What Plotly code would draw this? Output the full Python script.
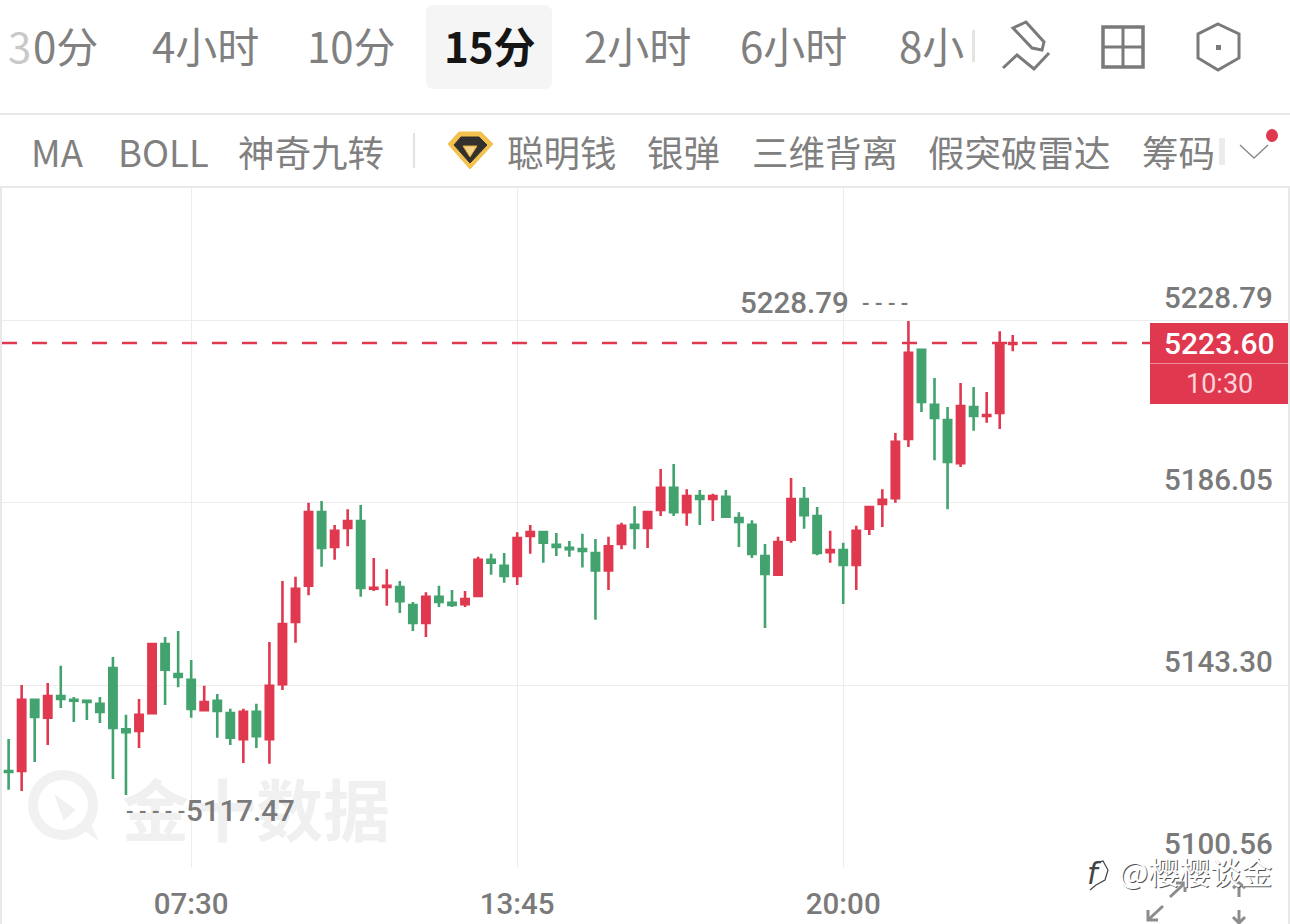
import plotly.graph_objs as go

# 15 minute gold candles, 04:00 to 23:15
times = ["%02d:%02d" % (4 + i // 4, (i % 4) * 15) for i in range(78)]
opens = [5123.1, 5123.1, 5139.8, 5135.6, 5140.7, 5139.8, 5139.6, 5138.9, 5147.3, 5132.9,
         5132.5, 5136.7, 5152.9, 5145.9, 5144.5, 5137.4, 5139.6, 5136.7, 5130.6, 5137.0,
         5130.6, 5143.5, 5158.1, 5166.6, 5183.9, 5175.7, 5180.2, 5181.8, 5165.9, 5166.3,
         5166.3, 5162.1, 5157.9, 5164.0, 5162.6, 5162.3, 5164.2, 5172.7, 5171.3, 5168.9,
         5178.3, 5179.2, 5176.2, 5175.5, 5175.2, 5174.3, 5170.2, 5176.4, 5180.9, 5180.2,
         5184.4, 5189.6, 5183.9, 5187.7, 5187.0, 5187.5, 5182.5, 5180.9, 5173.6, 5169.2,
         5177.4, 5187.0, 5183.0, 5174.5, 5175.0, 5171.5, 5180.0, 5185.8, 5187.2, 5201.1,
         5222.0, 5209.1, 5205.5, 5195.4, 5208.6, 5206.5, 5207.2, 5223.4]
highs = [5130.6, 5143.3, 5140.0, 5143.8, 5147.8, 5140.5, 5139.7, 5140.5, 5149.9, 5136.3,
         5140.0, 5153.2, 5154.6, 5156.0, 5149.2, 5143.1, 5141.2, 5137.7, 5137.7, 5138.9,
         5153.4, 5167.7, 5168.7, 5186.1, 5186.5, 5180.9, 5184.6, 5185.6, 5173.1, 5170.5,
         5167.7, 5162.8, 5165.1, 5166.6, 5165.6, 5165.4, 5173.4, 5174.1, 5174.3, 5179.2,
         5180.9, 5179.5, 5179.0, 5177.1, 5178.8, 5177.6, 5178.1, 5181.4, 5185.3, 5184.2,
         5194.0, 5195.2, 5189.3, 5189.1, 5188.2, 5189.1, 5183.9, 5182.0, 5176.4, 5178.1,
         5191.9, 5189.8, 5185.1, 5179.5, 5176.7, 5180.7, 5185.3, 5189.3, 5202.5, 5228.79,
         5222.2, 5215.4, 5208.6, 5214.2, 5213.3, 5212.1, 5226.4, 5225.5]
lows = [5118.7, 5118.4, 5125.2, 5129.2, 5137.9, 5134.6, 5135.1, 5134.4, 5121.2, 5117.47,
        5128.5, 5136.5, 5138.6, 5142.8, 5135.6, 5137.2, 5130.9, 5129.2, 5125.0, 5128.5,
        5124.8, 5142.1, 5153.2, 5164.4, 5171.1, 5172.7, 5175.9, 5164.0, 5165.4, 5161.9,
        5160.2, 5156.0, 5154.6, 5161.6, 5161.6, 5161.6, 5164.0, 5169.2, 5167.3, 5166.8,
        5174.1, 5172.0, 5173.6, 5173.4, 5170.9, 5158.6, 5165.6, 5175.2, 5175.2, 5175.5,
        5183.0, 5183.0, 5180.7, 5180.9, 5181.8, 5182.5, 5175.7, 5173.1, 5156.7, 5168.9,
        5176.7, 5180.0, 5173.8, 5172.0, 5162.3, 5165.6, 5178.5, 5180.4, 5186.1, 5199.2,
        5207.4, 5196.1, 5184.6, 5194.5, 5203.0, 5204.9, 5203.4, 5221.7]
closes = [5122.9, 5139.8, 5135.8, 5140.7, 5140.0, 5139.6, 5139.3, 5137.0, 5133.2, 5132.2,
          5136.3, 5152.9, 5146.9, 5145.2, 5137.7, 5139.3, 5137.2, 5130.9, 5137.0, 5131.3,
          5143.1, 5157.6, 5165.9, 5183.9, 5175.5, 5179.5, 5181.8, 5166.1, 5166.1, 5166.6,
          5163.0, 5157.9, 5164.0, 5162.8, 5162.1, 5163.5, 5172.7, 5172.0, 5168.9, 5177.8,
          5179.2, 5176.7, 5175.7, 5175.2, 5174.8, 5170.2, 5175.9, 5180.7, 5180.2, 5183.9,
          5189.6, 5183.9, 5187.7, 5187.0, 5187.7, 5182.8, 5181.6, 5174.1, 5169.4, 5176.9,
          5187.0, 5183.2, 5174.3, 5175.0, 5171.5, 5179.5, 5185.1, 5186.8, 5200.4, 5221.3,
          5209.8, 5206.0, 5195.7, 5208.8, 5206.5, 5206.7, 5223.4, 5223.6]

price_ticks = [5228.79, 5186.05, 5143.30, 5100.56]
time_ticks = ["07:30", "13:45", "20:00"]
tabs = [("4小时", 150), ("10分", 305), ("2小时", 582), ("6小时", 738), ("8小", 897)]
indicators = [("MA", 29), ("BOLL", 116), ("神奇九转", 236), ("聪明钱", 505), ("银弹", 645),
              ("三维背离", 750), ("假突破雷达", 926), ("筹码", 1140)]

W, H = 1290, 924
RED = "#e0394f"
GREEN = "#42a36e"
GREY = "#7a7a7a"
LIGHT = "#808080"
CJK = "Noto Sans CJK SC"


def px(x):
    return x / W


def py(y):
    return 1 - y / H


def path(points, close=False):
    s = "M" + " L".join("%.5f,%.5f" % (px(x), py(y)) for x, y in points)
    return s + (" Z" if close else "")


shapes = []
annotations = []


def draw(points, color=GREY, width=2, fill=None, close=False, layer="above"):
    shapes.append(dict(type="path", xref="paper", yref="paper", path=path(points, close),
                       line=dict(color=color, width=width), fillcolor=fill, layer=layer))


def box(x0, y0, x1, y1, fill, layer="above"):
    shapes.append(dict(type="rect", xref="paper", yref="paper", x0=px(x0), x1=px(x1),
                       y0=py(y0), y1=py(y1), fillcolor=fill, line=dict(width=0), layer=layer))


def text(s, x, y, size, color=LIGHT, anchor="left", font=CJK, bold=False, weight=None):
    f = dict(family=font, size=size, color=color)
    if weight:
        f["weight"] = weight
    annotations.append(dict(text="<b>%s</b>" % s if bold else s, x=px(x), y=py(y), xref="paper",
                            yref="paper", xanchor=anchor, yanchor="middle", showarrow=False, font=f))


# header rows
shapes.append(dict(type="path", xref="paper", yref="paper", fillcolor="#f5f5f5",
                   line=dict(width=0), layer="below",
                   path="M%f,%f L%f,%f Q%f,%f %f,%f L%f,%f Q%f,%f %f,%f L%f,%f Q%f,%f %f,%f L%f,%f Q%f,%f %f,%f Z" % (
                       px(434), py(5), px(544), py(5), px(552), py(5), px(552), py(13),
                       px(552), py(81), px(552), py(89), px(544), py(89),
                       px(434), py(89), px(426), py(89), px(426), py(81),
                       px(426), py(13), px(426), py(5), px(434), py(5))))
text("3", 6, 45, 42, "#c9c9c9")
text("0分", 31, 45, 42)
for name, x in tabs:
    text(name, x, 45, 42)
text("15分", 442, 45, 42, "#151515", bold=True)
box(972, 30, 975, 62, "#e4e4e4")
for name, x in indicators:
    text(name, x, 152, 36.5)
box(1219, 138, 1225, 165, "#ececec")
box(0, 113, W, 115, "#e8e8e8")
box(0, 186, W, 188, "#e8e8e8")
box(413, 133, 415, 168, "#e2e2e2")

# pencil, grid and hexagon icons
draw([(1013, 28), (1026, 22), (1044, 42), (1042, 50), (1032, 48)], width=3, close=True)
draw([(1003, 68), (1017, 55), (1034, 69), (1049, 53)], width=3)
draw([(1103, 27), (1143, 27), (1143, 67), (1103, 67)], width=3.5, close=True)
draw([(1123, 27), (1123, 67)], width=3)
draw([(1103, 47), (1143, 47)], width=3)
draw([(1218, 24), (1239, 34), (1239, 58), (1218, 70), (1198, 58), (1198, 34)], width=3, close=True)
box(1216, 45, 1221, 50, GREY)
draw([(1240, 145), (1254, 158), (1268, 145)], color="#8a8a8a", width=1.5)
shapes.append(dict(type="circle", xref="paper", yref="paper", x0=px(1266), x1=px(1278),
                   y0=py(129), y1=py(142), fillcolor=RED, line=dict(width=0)))

# gold diamond
draw([(459, 132), (481, 132), (493, 144), (470, 169), (448, 144)], color="#f2c14e", width=1,
     fill="#f2c14e", close=True)
draw([(461, 137), (479, 137), (487, 145), (470, 163), (454, 145)], color="#33312d", width=1,
     fill="#33312d", close=True)
draw([(463, 146), (477, 146), (470, 157)], color="#e8a92c", width=1, fill="#f4d58a", close=True)

# watermark
shapes.append(dict(type="circle", xref="paper", yref="paper", x0=px(33), x1=px(93),
                   y0=py(775), y1=py(835), line=dict(color="#f1f1f1", width=10), layer="below"))
draw([(55, 795), (75, 810), (64, 820)], color="#f1f1f1", width=1, fill="#f1f1f1", close=True, layer="below")
draw([(77, 825), (88, 820), (98, 840)], color="#f1f1f1", width=1, fill="#f1f1f1", close=True, layer="below")
text("金十数据", 120, 806, 67, "#f0f0f0", bold=True)

# left and right edges of the panel
box(0, 188, 2, H, "#e8e8e8")
box(1288, 188, W, H, "#e8e8e8")

# current price tag
last = closes[-1]
shapes.append(dict(type="line", xref="paper", yref="y", x0=px(2), x1=px(1150), y0=last, y1=last,
                   line=dict(color=RED, width=2.5, dash="15px,15px"), layer="above"))
box(1150, 323, 1288, 404, RED)
box(1150, 363, 1288, 364, "#ee8b98")
text("%.2f" % last, 1219, 343, 30, "white", "center", "Roboto", weight=500)
text("10:30", 1219, 384, 27, "#fbd3d8", "center", "Roboto")

# price labels sit just above their grid lines
num_font = dict(family="Roboto", size=29.5, color=GREY, weight=500)
for p in price_ticks:
    annotations.append(dict(text="%.2f" % p, x=px(1275), y=p, xref="paper", yref="y", xanchor="right",
                            yanchor="middle", yshift=23, showarrow=False, font=num_font))

# high and low markers
hi = highs.index(max(highs))
lo = lows.index(min(lows))
annotations.append(dict(text="%.2f" % highs[hi], x=times[hi], y=highs[hi], xref="x", yref="y",
                        xanchor="right", yanchor="middle", xshift=-57, yshift=18, showarrow=False,
                        font=num_font))
annotations.append(dict(text="%.2f" % lows[lo], x=times[lo], y=lows[lo], xref="x", yref="y",
                        xanchor="left", yanchor="middle", xshift=58, yshift=-16, showarrow=False,
                        font=num_font))
text("- - - -", 860, 303, 22, GREY, font="Roboto", weight=500)
text("- - - - -", 124, 811, 22, GREY, font="Roboto", weight=500)

# expand arrows in the bottom corner
for pts in ([(1170, 897), (1185, 883)], [(1176, 883), (1185, 883), (1185, 892)],
            [(1163, 906), (1148, 920)], [(1148, 910), (1148, 920), (1158, 920)],
            [(1239, 897), (1239, 883)], [(1233, 888), (1239, 883), (1245, 888)],
            [(1239, 910), (1239, 923)], [(1233, 917), (1239, 923), (1245, 917)]):
    draw(pts, color="#8c8c8c", width=3)

# zhihu mark
box(1078, 865, 1280, 869, "white")
draw([(1094, 863), (1103, 861), (1108, 870), (1105, 880), (1096, 885), (1090, 890)], color="#444444", width=1.2)
text("<i>f</i>", 1085, 873, 30, "#444444", font="DejaVu Sans")
text("@樱樱谈金", 1118, 871, 31, "#555555")
text("@樱樱谈金", 1117, 870, 31, "white")

fig = go.Figure(go.Candlestick(
    x=times, open=opens, high=highs, low=lows, close=closes,
    increasing=dict(line=dict(color=RED, width=2.6), fillcolor=RED),
    decreasing=dict(line=dict(color=GREEN, width=2.6), fillcolor=GREEN),
    whiskerwidth=0, hoverinfo="skip"))

fig.update_layout(
    width=W, height=H, margin=dict(l=0, r=0, t=0, b=0), showlegend=False,
    paper_bgcolor="white", plot_bgcolor="white", boxgap=0.44, boxgroupgap=0,
    shapes=shapes, annotations=annotations,
    xaxis=dict(type="category", range=[-0.66, 98.26], domain=[0, 1], rangeslider=dict(visible=False),
               tickmode="array", tickvals=time_ticks, ticktext=time_ticks, showgrid=True,
               gridcolor="#ececec", gridwidth=1, ticks="outside", ticklen=11, tickcolor="white",
               tickfont=num_font, zeroline=False, showline=False),
    yaxis=dict(range=[5100.56, 5260.02], domain=[py(867), py(188)], side="right", tickmode="array",
               tickvals=price_ticks, showticklabels=False, showgrid=True, gridcolor="#ececec",
               gridwidth=1, zeroline=False, showline=False))

fig.write_html("out.html", config=dict(displayModeBar=False),
               post_script="document.body.style.margin='0';document.documentElement.style.overflow='hidden';"
                           "document.body.style.overflow='hidden';document.body.style.height='924px';")
